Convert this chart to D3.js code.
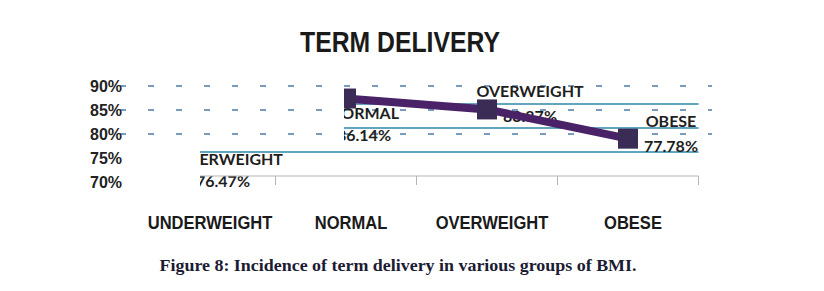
<!DOCTYPE html>
<html>
<head>
<meta charset="utf-8">
<script src="https://cdn.jsdelivr.net/npm/d3@7"></script>
<style>
  html, body { margin: 0; padding: 0; background: #fff; }
  svg { display: block; }
</style>
</head>
<body>
<svg id="chart" width="824" height="291"></svg>
<script>
// term delivery by BMI group
const categories = ['UNDERWEIGHT', 'NORMAL', 'OVERWEIGHT', 'OBESE'];
const termDelivery = [76.47, 86.14, 83.87, 77.78];
const yTicks = [70, 75, 80, 85, 90];
const tickLabels = ['70%', '75%', '80%', '85%', '90%'];
const dashedRows = [80, 85, 90];
const solidRows = [75, 80, 85];
const labelsBelow = ['UNDERWEIGHT', 'NORMAL'];
const title = 'TERM DELIVERY';
const caption = 'Figure 8: Incidence of term delivery in various groups of BMI.';

const svg = d3.select('#chart');
const W = 824, H = 291;

const x = d3.scaleBand().domain(categories).range([134.5, 698.5]);
const cx = c => x(c) + x.bandwidth() / 2;
const y = d3.scaleLinear().domain([70, 90]).range([176, 80]);

// squeeze text to a target width (the original uses a narrow font)
function squeeze(sel, width) {
  sel.each(function () {
    const w = width != null ? width : this.getComputedTextLength() * 0.87;
    d3.select(this).attr('textLength', w).attr('lengthAdjust', 'spacingAndGlyphs');
  });
}

// title
svg.append('text').attr('x', 400).attr('y', 52).attr('text-anchor', 'middle')
  .attr('font-family', 'Liberation Sans, Arial, sans-serif').attr('font-weight', 'bold')
  .attr('font-size', 30).attr('fill', '#1a1a1a').text(title)
  .call(squeeze, 200);

// dashed rows (sit on the tick label centres)
svg.append('g').selectAll('line').data(dashedRows).join('line')
  .attr('x1', 120).attr('x2', 712)
  .attr('y1', d => y(d) + 6).attr('y2', d => y(d) + 6)
  .attr('stroke', '#4f7ca6').attr('stroke-width', 1.5).attr('stroke-dasharray', '6,22');

// y tick labels
svg.append('g').selectAll('text').data(yTicks).join('text')
  .attr('x', 90).attr('y', d => y(d) + 12)
  .attr('font-family', 'Liberation Sans, Arial, sans-serif').attr('font-weight', 'bold')
  .attr('font-size', 16).attr('fill', '#222')
  .text((d, i) => tickLabels[i]);

// clips reproducing the visible part of the plot
const clipTop = svg.append('clipPath').attr('id', 'clipTop');
clipTop.append('rect').attr('x', cx('NORMAL') - 2).attr('y', y(90) + 3)
  .attr('width', W).attr('height', y(70) - y(90));
const clipAll = svg.append('clipPath').attr('id', 'clipAll');
clipAll.append('rect').attr('x', cx('NORMAL') - 2).attr('y', y(90) + 3)
  .attr('width', W).attr('height', y(70) - y(90));
clipAll.append('rect').attr('x', cx('UNDERWEIGHT') - 5).attr('y', y(75) - 2)
  .attr('width', W).attr('height', 45);

const plot = svg.append('g').attr('clip-path', 'url(#clipAll)');
const series = svg.append('g').attr('clip-path', 'url(#clipTop)');

// solid gridlines
plot.selectAll('line.grid').data(solidRows).join('line').attr('class', 'grid')
  .attr('x1', x.range()[0]).attr('x2', x.range()[1])
  .attr('y1', d => y(d)).attr('y2', d => y(d))
  .attr('stroke', '#2f86a8').attr('stroke-width', 1.6);

// baseline + category ticks
const xStart = cx('UNDERWEIGHT') - 5;
svg.append('line').attr('x1', xStart).attr('x2', x.range()[1])
  .attr('y1', y(70)).attr('y2', y(70)).attr('stroke', '#b5b5b5').attr('stroke-width', 1);
svg.append('g').selectAll('line').data(categories).join('line')
  .attr('x1', d => x(d) + x.bandwidth()).attr('x2', d => x(d) + x.bandwidth())
  .attr('y1', y(70)).attr('y2', y(70) + 9)
  .attr('stroke', '#b5b5b5').attr('stroke-width', 1);

// series line
const pts = categories.map((c, i) => [cx(c), y(termDelivery[i])]);
series.append('path').attr('d', d3.line()(pts))
  .attr('fill', 'none').attr('stroke', '#4a2268').attr('stroke-width', 8)
  .attr('stroke-linejoin', 'round');

// markers
series.selectAll('rect.mk').data(pts).join('rect').attr('class', 'mk')
  .attr('x', d => d[0] - 10).attr('y', d => d[1] - 10)
  .attr('width', 20).attr('height', 20)
  .attr('fill', '#3a2c55');

// data labels
const lab = plot.selectAll('g.lab').data(categories).join('g').attr('class', 'lab')
  .attr('font-family', 'Lato, Open Sans, sans-serif').attr('font-weight', 'bold')
  .attr('font-size', 16).attr('fill', '#1e1e1e').attr('text-anchor', 'middle');
lab.append('text')
  .attr('x', c => cx(c) + (labelsBelow.includes(c) ? 18 : 43))
  .attr('y', (c, i) => y(termDelivery[i]) + (labelsBelow.includes(c) ? 20 : -12))
  .text(c => c);
lab.append('text')
  .attr('x', c => cx(c) + (labelsBelow.includes(c) ? 18 : 43))
  .attr('y', (c, i) => y(termDelivery[i]) + (labelsBelow.includes(c) ? 42 : 13))
  .text((c, i) => termDelivery[i].toFixed(2) + '%');

// category labels
svg.append('g').selectAll('text').data(categories).join('text')
  .attr('x', d => cx(d) + 5).attr('y', 229).attr('text-anchor', 'middle')
  .attr('font-family', 'Liberation Sans, Arial, sans-serif').attr('font-weight', 'bold')
  .attr('font-size', 19).attr('fill', '#1a1a1a').text(d => d)
  .call(squeeze);

// caption
svg.append('text').attr('x', 398).attr('y', 271).attr('text-anchor', 'middle')
  .attr('font-family', 'Liberation Serif, DejaVu Serif, serif').attr('font-weight', 'bold')
  .attr('font-size', 16).attr('fill', '#1b1b33').text(caption)
  .call(squeeze, 477);
</script>
</body>
</html>
